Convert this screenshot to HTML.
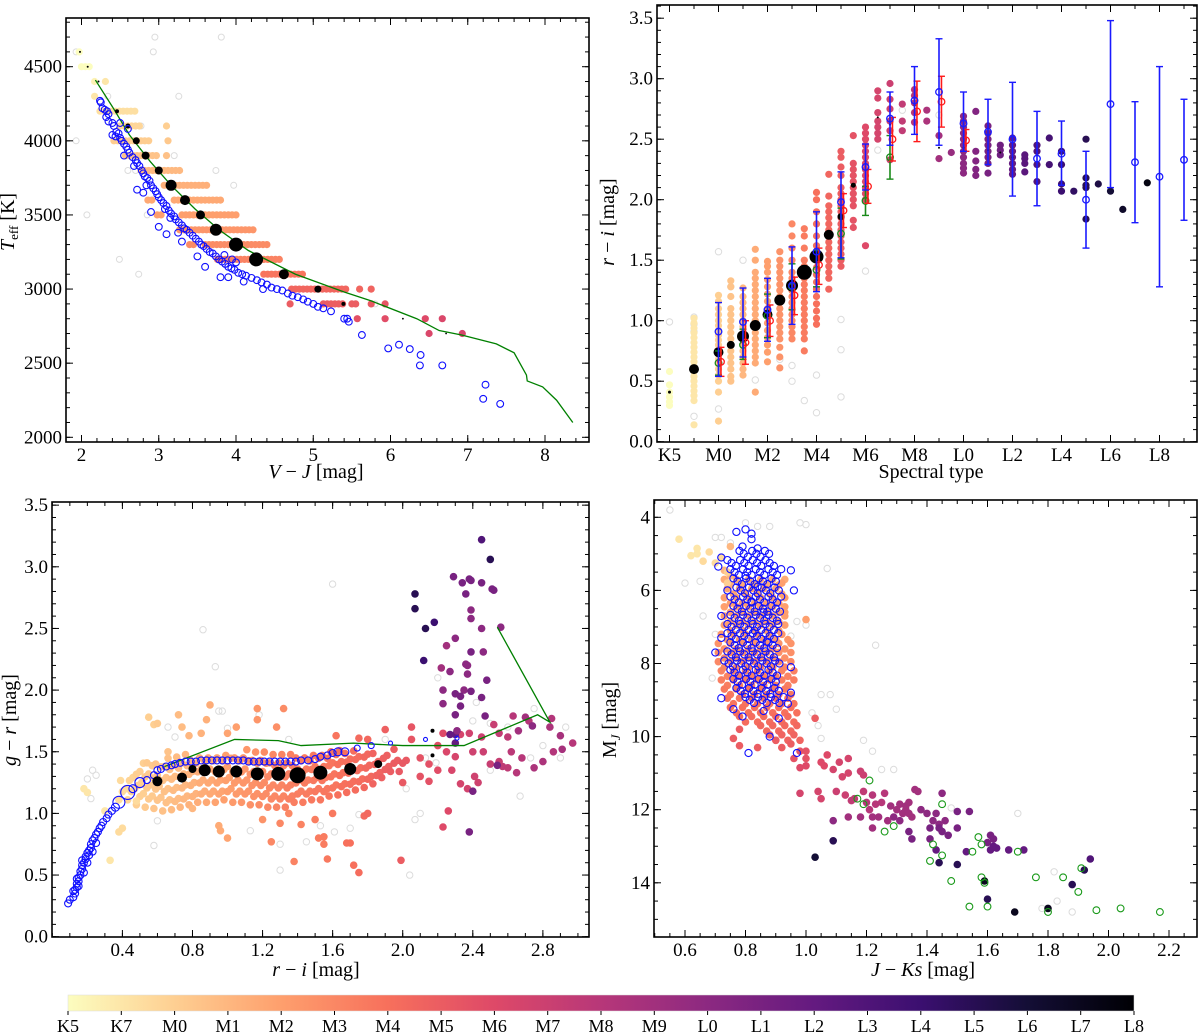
<!DOCTYPE html>
<html><head><meta charset="utf-8"><style>
html,body{margin:0;padding:0;background:#fff;}
svg{display:block;}
svg text{font-family:"Liberation Serif",serif;}
</style></head><body>
<svg id="fig" width="1200" height="1034" viewBox="0 0 1200 1034" xmlns="http://www.w3.org/2000/svg" font-family="Liberation Serif, serif">
<defs>
<linearGradient id="cbgrad" x1="0" x2="1" y1="0" y2="0">
<stop offset="0" stop-color="#fcfdbf"/><stop offset="0.1" stop-color="#fecf92"/><stop offset="0.2" stop-color="#fe9f6d"/><stop offset="0.3" stop-color="#f7705c"/><stop offset="0.4" stop-color="#de4968"/><stop offset="0.5" stop-color="#b73779"/><stop offset="0.6" stop-color="#8c2981"/><stop offset="0.7" stop-color="#641a80"/><stop offset="0.8" stop-color="#3b0f70"/><stop offset="0.9" stop-color="#140e36"/><stop offset="1" stop-color="#000004"/>
</linearGradient>
</defs>
</svg>
<script>
// ---------- Panel 1 data (V-J vs Teff) ----------
const p1Streaks=[[4600,1.97,1.99,0],[4500,2.0,2.13,0],[4400,2.17,2.17,0.5],[4400,2.31,2.31,1],[4300,2.17,2.17,1],[4200,2.24,2.69,1.3],[4100,2.5,2.78,1.7],[4100,3.1,3.1,2],[4000,2.42,2.9,2.1],[4000,3.12,3.12,2.3],[3900,2.57,3.0,2.5],[3900,3.1,3.1,2.6],[3800,2.77,3.27,2.9],[3700,3.07,3.62,3.3],[3600,2.86,2.95,3.6],[3600,3.2,3.8,3.6],[3500,2.98,3.05,4],[3500,3.3,4.0,4],[3400,3.27,4.25,4.4],[3300,3.4,3.45,4.8],[3300,3.6,4.41,4.8],[3200,3.76,4.57,5.2],[3100,4.36,4.9,5.8],[3000,4.72,5.45,6.5],[3000,5.6,5.6,6.5],[3000,5.75,5.78,6.6],[2900,4.7,4.7,7],[2900,5.13,5.4,7],[2900,5.5,5.55,7],[2900,5.75,5.78,7.2],[2900,5.93,5.93,7.4],[2800,5.57,5.57,7.6],[2800,5.93,5.93,7.8],[2800,6.45,6.45,8],[2800,6.67,6.67,8.2],[2700,6.5,6.5,8.2],[2700,6.93,6.93,8.4]];
const p1Gray=[[2.95,4700],[3.81,4700],[1.93,4600],[2.93,4600],[2.34,4300],[3.26,4300],[1.93,4000],[2.77,4100],[3.2,3900],[2.6,3800],[2.7,3800],[3.74,3800],[3.97,3700],[2.07,3500],[2.49,3200],[2.74,3100],[2.85,3500],[5.8,2900]];
const p1BlueX=[2.24,2.25,2.27,2.3,2.33,2.35,2.32,2.4,2.42,2.45,2.4,2.44,2.48,2.5,2.52,2.55,2.58,2.6,2.62,2.55,2.66,2.7,2.72,2.68,2.75,2.78,2.8,2.82,2.85,2.88,2.84,2.9,2.93,2.96,2.98,3.0,3.03,3.06,3.1,3.08,3.13,3.16,3.2,3.22,3.26,3.3,3.33,3.36,3.4,3.44,3.48,3.52,3.55,3.58,3.62,3.66,3.7,3.74,3.78,3.82,3.86,3.9,3.94,3.98,4.03,4.08,4.13,4.2,4.27,4.33,4.4,4.46,4.53,4.6,4.67,4.73,4.8,4.87,4.93,5.0,5.06,5.13,5.23,5.4,5.44,5.46,5.63,3.6,3.85,3.5,4.0,3.9,3.8,3.3,3.1,3.0,2.9,2.8,2.72,3.15,3.25,3.95,4.1,4.35,2.5,2.6,2.35,5.97,6.11,6.25,6.39,6.38,6.67,7.23,7.2,7.42];
const p1BlueT=[4270,4260,4220,4210,4200,4180,4160,4120,4100,4060,4040,4030,4050,4020,4000,3980,3960,3940,3920,3900,3890,3870,3850,3830,3830,3800,3780,3760,3750,3730,3700,3700,3680,3660,3640,3620,3600,3580,3560,3540,3530,3510,3490,3470,3450,3430,3410,3400,3380,3360,3340,3320,3300,3290,3270,3250,3240,3220,3200,3185,3170,3150,3140,3130,3110,3100,3090,3075,3060,3045,3030,3010,3000,2990,2970,2955,2945,2930,2915,2900,2880,2870,2850,2800,2800,2780,2690,3150,3230,3220,3180,3080,3080,3320,3370,3420,3520,3650,3670,3480,3380,3200,3050,3000,4120,4080,4130,2600,2625,2595,2555,2485,2485,2355,2260,2225];
const p1MeanX=[1.98,2.08,2.22,2.46,2.6,2.71,2.83,3.0,3.16,3.34,3.54,3.74,4.0,4.26,4.62,5.06,5.39,6.16,6.72];
const p1MeanT=[4600,4500,4400,4200,4100,4000,3900,3800,3700,3600,3500,3400,3300,3200,3100,3000,2900,2800,2700];
const p1MeanR=[1,1,1,2,2.5,3.5,4,4,5.5,5,4.5,6,7,7,5,3.5,2,0.9,0.9];
const p1LineX=[2.18,2.4,2.62,2.89,3.16,3.47,3.78,4.16,4.77,5.4,5.75,6.34,6.63,6.92,7.37,7.6,7.76,7.77,7.97,8.15,8.36];
const p1LineT=[4410,4230,4040,3860,3700,3540,3400,3260,3100,2980,2920,2800,2720,2690,2630,2570,2420,2380,2340,2250,2100];
const p1XTicks=[2,3,4,5,6,7,8];
const p1YTicks=[2000,2500,3000,3500,4000,4500];

// ---------- Panel 2 data (spectral type vs r-i) ----------
const p2ColIdx=[-2,-1,0,0.5,1,1.5,2,2.5,3,3.5,4,4.5,5,5.5,6,6.5,7,7.5,8,8.5,9,9.5,10,10.5,11,11.5,12,12.5,13,13.5,14,14.5,15,15.5,16,16.5,17.5];
const p2ColVals=[[0.3,0.33,0.37,0.41,0.47,0.58],[0.14,0.34,0.38,0.42,0.46,0.5,0.54,0.58,0.62,0.66,0.7,0.74,0.78,0.82,0.86,0.9,0.94,0.98,1.02],[0.17,0.41,0.5,0.55,0.6,0.64,0.68,0.72,0.76,0.8,0.84,0.88,0.92,0.96,1.0,1.05,1.1,1.16,1.21],[0.5,0.54,0.6,0.65,0.7,0.75,0.8,0.85,0.9,0.95,1.0,1.05,1.1,1.2,1.28,1.33],[0.55,0.6,0.65,0.7,0.75,0.8,0.85,0.9,0.95,1.0,1.05,1.1,1.15,1.2,1.27],[0.41,0.65,0.7,0.75,0.8,0.85,0.9,0.95,1.0,1.05,1.1,1.15,1.2,1.25,1.3,1.35,1.4,1.5,1.59],[0.66,0.74,0.8,0.86,0.92,0.98,1.04,1.1,1.16,1.22,1.28,1.34,1.4,1.45,1.49],[0.61,0.7,0.78,0.85,0.9,0.95,1.0,1.05,1.1,1.15,1.2,1.25,1.3,1.35,1.4,1.45,1.5,1.57],[0.85,0.9,0.95,1.0,1.05,1.1,1.15,1.2,1.25,1.3,1.35,1.4,1.5,1.6,1.7,1.8],[0.75,0.85,0.9,0.95,1.0,1.05,1.1,1.15,1.2,1.25,1.3,1.35,1.4,1.45,1.5,1.6,1.7,1.76],[0.97,1.02,1.08,1.14,1.2,1.26,1.32,1.38,1.44,1.5,1.56,1.62,1.7,1.8,1.9,2.0,2.06],[1.26,1.35,1.4,1.45,1.5,1.55,1.6,1.65,1.7,1.75,1.8,1.85,1.9,1.95,2.03,2.21],[1.45,1.5,1.55,1.6,1.65,1.7,1.75,1.8,1.85,1.9,1.95,2.0,2.05,2.1,2.2,2.27,2.35,2.4],[1.77,1.83,1.95,2.0,2.05,2.1,2.15,2.2,2.25,2.3,2.53],[1.62,2.0,2.05,2.1,2.15,2.2,2.25,2.3,2.35,2.4,2.45,2.5,2.55,2.6],[2.5,2.55,2.6,2.65,2.72,2.84,2.9],[2.33,2.57,2.65,2.75,2.83,2.96],[2.57,2.65,2.79],[2.64,2.72,2.8,2.86,2.91],[2.65,2.74],[2.34,2.53],[2.39],[2.22,2.26,2.3,2.35,2.4,2.45,2.5,2.55,2.6,2.65,2.69],[2.2,2.25,2.32,2.4,2.73],[2.22,2.3,2.35,2.4,2.45,2.5,2.55,2.61],[2.37,2.41,2.45],[2.21,2.25,2.3,2.35,2.4,2.45,2.51],[2.23,2.3,2.34,2.37],[2.15,2.29,2.4,2.45],[2.29,2.51],[2.07,2.13,2.29,2.4],[2.07],[1.84,2.1,2.12,2.18,2.5],[2.13],[2.07],[1.92],[2.14]];
const p2GrayIdx=[-2,-1,-1,-1,-1,0,0,1,1.5,2.5,3,3,3.5,4,4,5,5,5,6,6.5,7.5,9,0.5];
const p2GrayVal=[0.99,0.21,0.91,0.97,1.03,0.27,1.57,1.5,0.51,0.68,0.5,0.63,0.34,0.24,0.55,0.37,0.76,1.01,1.41,2.41,2.74,2.7,1.28];
const p2MeanIdx=[-2,-1,0,0.5,1,1.5,2,2.5,3,3.5,4,4.5,5,5.5,6,6.5,7,8,9,10,11,11.5,12];
const p2MeanVal=[0.41,0.6,0.74,0.8,0.87,0.96,1.05,1.17,1.29,1.4,1.53,1.71,1.86,2.12,2.32,2.68,2.62,2.78,2.43,2.43,2.41,2.39,2.35];
const p2MeanR=[1.5,5,5,4,6,5.5,5,5.5,6,7.5,7,5,3.5,2.5,1,1,1,1,1,1,1,1,1];
const p2BlueIdx=[0,1,2,3,4,5,6,7,8,9,10,11,12,13,14,15,16,17,18,19];
const p2BlueVal=[0.91,0.99,1.09,1.29,1.57,1.98,2.27,2.67,2.82,2.89,2.63,2.56,2.5,2.34,2.38,2.0,2.79,2.31,2.19,2.33];
const p2BlueLo=[0.54,0.7,0.83,0.97,1.24,1.52,2.08,2.45,2.54,2.45,2.4,2.29,2.03,1.95,2.12,1.6,2.1,1.81,1.28,1.83];
const p2BlueHi=[1.15,1.27,1.35,1.61,1.9,2.23,2.46,2.89,3.1,3.33,2.89,2.83,2.97,2.73,2.65,2.4,3.48,2.81,3.1,2.83];
const p2RedIdx=[0.1,1.1,2.1,3.1,4.1,5.1,6.1,7.1,8.1,9.1,10.1];
const p2RedVal=[0.66,0.82,1.0,1.21,1.46,1.91,2.11,2.5,2.73,2.81,2.49];
const p2RedLo=[0.54,0.64,0.87,1.05,1.3,1.77,1.97,2.32,2.48,2.6,2.4];
const p2RedHi=[0.78,1.0,1.13,1.36,1.6,2.05,2.25,2.68,2.98,3.02,2.58];
const p2GreenIdx=[0,1,2,3,4,5,6,7];
const p2GreenVal=[0.65,0.8,1.04,1.28,1.42,1.72,1.99,2.35];
const p2GreenLo=[0.55,0.68,0.86,1.09,1.28,1.51,1.87,2.17];
const p2GreenHi=[0.75,0.93,1.22,1.47,1.58,1.93,2.11,2.53];
const p2XTickIdx=[-2,0,2,4,6,8,10,12,14,16,18];
const p2XTickLab=["K5","M0","M2","M4","M6","M8","L0","L2","L4","L6","L8"];
const p2YTicks=[0.0,0.5,1.0,1.5,2.0,2.5,3.0,3.5];

// ---------- Panel 3 data (r-i vs g-r) ----------
const p3CloudX=[0.4,0.45,0.5,0.55,0.6,0.65,0.7,0.75,0.8,0.85,0.9,0.95,1.0,1.05,1.1,1.15,1.2,1.25,1.3,1.35,1.4,1.45,1.5,1.55,1.6,1.65,1.7,1.75,1.8,1.85,1.9,1.95,2.0];
const p3CloudLo=[1.12,1.12,1.08,1.06,1.05,1.03,1.04,1.06,1.08,1.1,1.1,1.1,1.12,1.1,1.1,1.08,1.08,1.06,1.06,1.06,1.1,1.1,1.12,1.12,1.15,1.16,1.18,1.2,1.22,1.25,1.3,1.35,1.35];
const p3CloudHi=[1.28,1.32,1.4,1.45,1.45,1.45,1.47,1.48,1.48,1.5,1.5,1.5,1.5,1.5,1.52,1.52,1.5,1.5,1.5,1.5,1.5,1.5,1.5,1.52,1.52,1.52,1.52,1.5,1.5,1.5,1.48,1.48,1.46];
const p3CloudS=[1.5,1.8,2,2.2,2.4,2.6,2.8,3,3.2,3.4,3.6,3.8,4,4.2,4.4,4.6,4.8,5,5.1,5.3,5.4,5.5,5.6,5.7,5.8,6,6.1,6.2,6.4,6.6,6.8,7,7.2];
const p3Pts=[[0.18,1.2,1],[0.2,1.17,1],[0.33,0.62,1],[0.3,1.02,1],[0.4,0.88,1.5],[0.38,0.85,1.5],[0.48,1.1,1.5],[0.55,1.78,2],[0.58,1.72,2],[0.6,1.73,2.2],[0.66,1.5,2.5],[0.72,1.8,2.8],[0.74,1.7,2.8],[0.78,1.63,3],[0.8,1.04,3],[0.85,1.65,3.2],[0.88,1.76,3.3],[0.9,1.88,3.4],[0.95,0.9,3.5],[0.96,0.86,3.5],[1.0,0.8,3.8],[1.0,1.65,3.8],[1.05,1.7,4],[1.17,1.85,4.4],[1.17,1.76,4.4],[1.2,0.95,4.5],[1.28,1.7,4.7],[1.32,1.85,4.8],[1.25,0.77,5],[1.3,0.92,5],[1.35,1.0,5],[1.38,0.61,5.2],[1.42,0.91,5.2],[1.5,0.95,5.4],[1.52,0.8,5.5],[1.55,0.81,5.5],[1.55,0.75,5.5],[1.57,0.63,5.6],[1.6,1.0,5.6],[1.62,1.63,5.8],[1.68,0.76,6],[1.7,0.76,6],[1.72,0.58,6],[1.75,0.52,6.2],[1.78,0.98,6.3],[1.8,1.0,6.4],[1.8,1.6,6.4],[1.75,1.61,6.3],[1.9,1.68,6.8],[1.95,1.52,7],[1.99,0.62,7],[2.0,1.25,7.2],[2.05,1.6,7.4],[2.05,1.7,7.4],[2.1,1.3,7.5],[2.1,1.45,7.5],[2.15,1.4,7.6],[2.15,1.26,7.6],[2.2,1.55,7.8],[2.2,1.35,7.8],[2.23,1.65,8],[2.23,0.89,8],[2.26,1.02,8],[2.25,1.5,8.2],[2.28,1.35,8.3],[2.3,1.46,8.4],[2.33,1.64,8.4],[2.33,1.24,8.5],[2.37,1.2,8.6],[2.38,1.65,8.7],[2.4,1.5,8.8],[2.41,1.3,8.8],[2.43,1.25,8.8],[2.46,1.5,9],[2.5,1.4,9.2],[2.52,1.72,9.2],[2.55,1.65,9.4],[2.57,1.38,9.6],[2.6,1.62,9.6],[2.62,1.5,9.8],[2.63,1.79,10],[2.65,1.33,10],[2.68,1.45,10],[2.72,1.75,10],[2.75,1.37,10.5],[2.8,1.42,10.5],[2.84,1.7,10.5],[2.85,1.77,10.2],[2.86,1.5,10.2],[2.91,1.52,10.8],[2.9,1.63,10.8],[2.97,1.57,10],[2.6,1.37,9.6],[2.55,1.42,9.2],[2.45,1.62,9],[2.07,2.78,17],[2.07,2.66,17],[2.13,2.5,17],[2.18,2.55,16],[2.12,2.24,16],[2.29,2.92,13],[2.34,2.87,13],[2.38,2.9,13],[2.39,2.89,13],[2.45,3.22,15],[2.5,3.06,17],[2.51,2.82,13],[2.52,2.81,13],[2.45,2.87,13],[2.36,2.78,13],[2.39,2.65,12],[2.39,2.58,12],[2.45,2.5,12],[2.3,2.42,12],[2.25,2.36,11],[2.39,2.31,13],[2.46,2.31,12],[2.36,2.21,12],[2.37,2.2,12],[2.37,2.13,12],[2.22,2.18,11],[2.27,2.15,12],[2.48,2.08,13],[2.23,2.0,12],[2.35,2.0,12],[2.3,1.97,13],[2.33,1.95,13],[2.39,1.99,13],[2.45,1.94,13],[2.23,1.89,12],[2.33,1.87,13],[2.3,1.8,13],[2.47,1.79,13],[2.3,1.64,14],[2.27,1.64,14],[2.3,1.57,14],[2.38,0.85,13],[2.4,1.18,13],[2.31,1.67,12],[2.74,1.71,12],[2.54,1.39,13],[2.56,2.51,12],[2.7,1.78,11],[2.66,1.67,11]];
const p3Gray=[[0.86,2.49],[0.93,2.19],[1.6,2.86],[0.95,1.83],[0.97,1.83],[1.0,1.69],[1.18,1.8],[0.6,0.94],[0.58,0.74],[0.42,1.2],[0.25,1.31],[0.23,1.35],[0.22,1.12],[0.2,1.28],[0.7,1.62],[0.66,1.7],[1.3,0.75],[1.13,0.86],[1.3,0.54],[1.45,0.77],[1.53,0.9],[1.61,0.85],[1.7,0.88],[1.68,1.2],[1.75,0.99],[2.04,0.5],[2.1,1.0],[2.07,0.95],[2.02,1.2],[2.2,2.1],[2.4,1.75],[2.42,1.9],[2.5,1.73],[2.6,1.7],[2.73,1.45],[2.67,1.14],[2.75,1.85],[2.8,1.55],[2.93,1.7],[2.9,1.45],[2.5,1.35],[2.19,1.41],[2.13,1.45],[2.4,1.5],[1.35,1.6],[1.9,1.6]];
const p3BlueX=[0.09,0.1,0.12,0.13,0.13,0.14,0.14,0.15,0.15,0.16,0.16,0.17,0.17,0.18,0.19,0.19,0.2,0.21,0.22,0.22,0.23,0.24,0.25,0.26,0.27,0.28,0.29,0.31,0.32,0.34,0.12,0.15,0.18,0.2,0.23,0.25,0.14,0.17,0.21,0.36,0.46,0.54,0.58,0.6,0.62,0.65,0.68,0.7,0.73,0.76,0.79,0.82,0.85,0.88,0.91,0.94,0.97,1.0,1.03,1.06,1.09,1.12,1.15,1.18,1.21,1.24,1.27,1.3,1.33,1.36,1.39,1.42,1.46,1.5,1.53,1.57,1.6,1.63,1.67,1.74,1.82,1.93,2.13,2.31,0.38,0.43,0.5];
const p3BlueY=[0.27,0.3,0.32,0.35,0.38,0.4,0.43,0.45,0.48,0.5,0.53,0.55,0.58,0.6,0.63,0.65,0.68,0.7,0.72,0.75,0.78,0.8,0.83,0.85,0.88,0.9,0.93,0.96,0.99,1.02,0.37,0.41,0.52,0.6,0.69,0.76,0.47,0.62,0.66,1.05,1.2,1.27,1.31,1.35,1.36,1.38,1.39,1.4,1.41,1.42,1.42,1.42,1.43,1.43,1.43,1.43,1.43,1.43,1.43,1.43,1.43,1.42,1.42,1.42,1.42,1.42,1.42,1.42,1.42,1.42,1.42,1.43,1.43,1.44,1.46,1.47,1.49,1.5,1.5,1.53,1.55,1.57,1.6,1.61,1.09,1.17,1.25];
const p3BlueR=[3.5,3.5,3.5,3.5,3.5,3.5,3.5,3.5,3.5,3.5,3.5,3.5,3.5,3.5,3.5,3.5,3.5,3.5,3.5,3.5,3.5,3.5,3.5,3.5,3.5,3.5,3.5,3.5,3.5,3.5,3.5,3.5,3.5,3.5,3.5,3.5,3.5,3.5,3.5,4,4,3.5,3.5,3.5,3.5,3.5,3.5,3.5,3.5,3.5,3.5,3.5,3.5,3.5,3.5,3.5,3.5,3.5,3.5,3.5,3.5,3.5,3.5,3.5,3.5,3.5,3.5,3.5,3.5,3.5,3.5,3.5,3.5,3.5,3.5,3.5,3.5,4,4,3,3,2,2,2,6,7,5];
const p3MeanX=[0.6,0.74,0.8,0.87,0.95,1.05,1.17,1.29,1.4,1.53,1.7,1.86,2.17,2.17];
const p3MeanY=[1.26,1.29,1.36,1.35,1.34,1.34,1.32,1.32,1.31,1.33,1.36,1.4,1.47,1.67];
const p3MeanR=[5,5,4,6,6,6,6.5,7,8,7,6,4,2,2];
const p3LineX=[0.64,1.04,1.29,1.42,1.72,2.0,2.35,2.77,2.84,2.54];
const p3LineY=[1.38,1.6,1.59,1.55,1.57,1.55,1.55,1.8,1.74,2.51];
const p3XTicks=[0.4,0.8,1.2,1.6,2.0,2.4,2.8];
const p3YTicks=[0.0,0.5,1.0,1.5,2.0,2.5,3.0,3.5];

// ---------- Panel 4 data (J-Ks vs M_J) ----------
const p4RedRowY=[5.5,5.75,6.0,6.25,6.5,6.75,7.0,7.25,7.5,7.75,8.0,8.25,8.5,8.75,9.0,9.25,9.5,9.75,10.0];
const p4RedRowLo=[0.73,0.73,0.74,0.73,0.73,0.73,0.73,0.72,0.71,0.71,0.71,0.72,0.72,0.73,0.74,0.75,0.78,0.85,0.88];
const p4RedRowHi=[0.76,0.93,0.93,0.94,0.94,0.94,0.94,0.95,0.95,0.95,0.95,0.96,0.96,0.96,0.96,0.97,0.97,0.98,0.98];
const p4RedRowS=[3,3.5,3.8,4,4,4,4,4.3,4.5,4.7,5,5.2,5.4,5.6,5.8,6,6.2,6.4,6.6];
const p4BlueRowY=[5.0,5.25,5.5,5.75,6.0,6.25,6.5,6.75,7.0,7.25,7.5,7.75,8.0,8.25,8.5,8.75,9.0];
const p4BlueRowLo=[0.78,0.74,0.75,0.76,0.77,0.75,0.76,0.75,0.74,0.74,0.75,0.74,0.73,0.75,0.76,0.77,0.8];
const p4BlueRowHi=[0.88,0.9,0.92,0.91,0.92,0.93,0.92,0.91,0.91,0.92,0.91,0.9,0.92,0.91,0.9,0.92,0.93];
const p4BlueExtra=[[0.77,4.4],[0.8,4.33],[0.82,4.45],[0.82,4.6],[0.84,4.85],[0.79,4.8],[0.72,5.1],[0.71,5.35],[0.74,6.0],[0.72,6.7],[0.7,7.7],[0.72,7.3],[0.72,8.95],[0.76,9.25],[0.79,9.45],[0.81,10.45],[0.88,10.0],[0.97,10.45],[0.95,8.1],[0.95,8.8],[0.95,5.45],[0.96,6.0],[0.86,9.3],[0.91,9.5],[0.94,9.1],[0.8,5.6],[0.84,5.9],[0.82,6.3],[0.86,6.6],[0.83,7.1],[0.87,7.4]];
const p4Pts=[[0.58,4.6,1],[0.62,5.05,1],[0.64,4.85,1],[0.64,5.0,1],[0.66,5.2,1.5],[0.68,4.95,1.5],[0.7,5.25,1.5],[0.72,5.1,1.5],[0.74,5.5,2],[0.74,5.8,2],[0.75,4.8,3],[1.0,6.8,4],[0.93,6.6,4],[0.92,5.8,4],[0.76,10.05,7],[0.78,10.25,7],[0.78,9.8,7],[0.84,10.3,7],[0.9,10.1,7],[0.92,10.3,7],[0.95,10.2,7],[0.96,10.6,7.5],[0.98,10.4,7.5],[1.0,10.6,7.5],[1.0,10.4,7.5],[0.98,10.85,8],[1.0,10.8,8],[0.98,11.55,8.5],[1.04,11.5,8.5],[1.05,11.7,8.5],[1.03,9.5,7],[1.05,10.7,8],[1.06,10.8,8],[1.07,10.5,8],[1.09,10.9,8.5],[1.1,11.5,9],[1.11,10.7,8.5],[1.12,11.1,8.5],[1.14,10.6,8.5],[1.14,11.0,8.5],[1.13,11.6,9],[1.15,11.75,9.5],[1.16,11.7,9.5],[1.18,10.95,9],[1.19,11.05,9],[1.19,11.5,9.5],[1.2,11.8,10],[1.21,12.0,10],[1.22,11.6,10],[1.23,11.85,10],[1.25,11.8,10],[1.26,11.55,10],[1.24,12.2,11],[1.22,12.2,11],[1.18,12.2,11],[1.14,12.2,11],[1.09,12.3,12],[1.28,11.9,11],[1.3,12.0,11],[1.31,11.85,11],[1.32,12.1,11],[1.33,11.9,11],[1.34,12.1,11],[1.35,12.2,11],[1.36,11.45,11],[1.37,11.5,11],[1.33,12.0,11],[1.34,11.8,11],[1.31,12.3,12],[1.34,12.6,13],[1.35,12.8,13],[1.29,12.2,12],[1.38,12.0,12],[1.4,12.1,12],[1.41,12.5,13],[1.42,12.3,12],[1.43,12.1,12],[1.44,12.4,12],[1.45,11.55,12],[1.45,12.6,13],[1.46,12.3,12],[1.47,12.7,13],[1.44,12.5,13],[1.41,12.8,13],[1.43,13.1,14],[1.5,12.05,13],[1.5,12.5,13],[1.54,12.05,13],[1.53,13.15,14],[1.6,12.9,13],[1.61,12.7,13],[1.61,13.1,14],[1.62,12.8,13],[1.62,13.0,14],[1.63,13.05,14],[1.67,13.1,14],[1.72,13.1,14],[1.27,12.3,11],[1.22,12.5,11],[1.09,12.85,17],[1.03,13.3,18],[1.44,13.45,17],[1.5,13.5,17],[1.59,13.95,19],[1.6,14.45,17],[1.69,14.8,19],[1.8,14.7,19],[1.88,14.05,17],[1.92,13.65,17],[1.94,13.35,15]];
const p4GreenX=[1.21,1.17,1.19,1.26,1.29,1.45,1.42,1.45,1.41,1.48,1.55,1.57,1.58,1.58,1.59,1.6,1.54,1.7,1.76,1.85,1.8,1.9,1.91,1.96,2.04,2.17];
const p4GreenY=[11.2,11.7,11.85,12.6,12.45,11.85,12.95,13.25,13.4,13.95,13.15,12.75,12.95,13.85,14.0,14.65,14.65,13.15,13.85,13.85,14.8,14.25,13.6,14.75,14.7,14.8];
const p4Gray=[[0.55,3.8],[0.6,5.8],[0.65,5.75],[0.66,6.7],[0.7,4.55],[0.72,4.55],[0.75,4.7],[0.8,4.15],[0.84,4.25],[0.88,4.25],[0.98,4.15],[1.0,4.2],[1.07,5.4],[0.97,6.85],[0.95,7.25],[1.0,6.95],[1.05,8.85],[1.08,8.85],[1.1,9.25],[1.02,9.35],[1.04,9.7],[1.05,10.05],[1.19,10.1],[1.23,7.5],[1.22,10.4],[1.25,10.9],[1.29,10.9],[1.48,11.95],[1.7,12.1],[1.83,14.5],[1.82,13.7],[1.88,14.8],[1.78,14.7],[0.69,8.4],[0.7,7.2]];
const p4XTicks=[0.6,0.8,1.0,1.2,1.4,1.6,1.8,2.0,2.2];
const p4YTicks=[4,6,8,10,12,14];

// ---------- Colorbar ----------
const cbLabels=["K5","K7","M0","M1","M2","M3","M4","M5","M6","M7","M8","M9","L0","L1","L2","L3","L4","L5","L6","L7","L8"];

// ================= drawing =================
const NS="http://www.w3.org/2000/svg";
const FONT='Liberation Serif, serif';
const svg=document.getElementById('fig');
const magmaStops=["#000004","#140e36","#3b0f70","#641a80","#8c2981","#b73779","#de4968","#f7705c","#fe9f6d","#fecf92","#fcfdbf"];
function hex(h){return [parseInt(h.slice(1,3),16),parseInt(h.slice(3,5),16),parseInt(h.slice(5,7),16)];}
function spColor(s){
  let t=1-Math.max(0,Math.min(20,s))/20; let f=t*10; let i=Math.min(9,Math.floor(f)); let u=f-i;
  const a=hex(magmaStops[i]),b=hex(magmaStops[i+1]);
  return "rgb("+a.map((v,k)=>Math.round(v+(b[k]-v)*u)).join(",")+")";
}
function el(tag,attrs,parent){const e=document.createElementNS(NS,tag);for(const k in attrs)e.setAttribute(k,attrs[k]);if(tag==='text')e.setAttribute('font-family',FONT);(parent||svg).appendChild(e);return e;}
function grp(name,parent){const g=el('g',{},parent);


return g;}
function circ(g,cx,cy,r,fill,stroke,sw){return el('circle',{cx:cx.toFixed(1),cy:cy.toFixed(1),r:r,fill:fill,stroke:stroke||'none','stroke-width':sw||1},g);}

function makeAxes(name,box,sx,sy,xMaj,xMin,yMaj,yMin,xLab,yLab,fs){
  const g=grp(name);
  const clip=el('clipPath',{id:'clip-'+name},g);
  el('rect',{x:box.x0,y:box.y0,width:box.x1-box.x0,height:box.y1-box.y0},clip);
  const plot=grp(name+'-plot-area',g); plot.setAttribute('clip-path','url(#clip-'+name+')');
  const ax=grp(name+'-axes',g);
  function tk(list,len,isX){for(const v of list){const p=isX?sx(v):sy(v);if(p<(isX?box.x0:box.y0)-0.5||p>(isX?box.x1:box.y1)+0.5)continue;
    if(isX){el('line',{x1:p,x2:p,y1:box.y1,y2:box.y1-len,stroke:'#000','stroke-width':1},ax);el('line',{x1:p,x2:p,y1:box.y0,y2:box.y0+len,stroke:'#000','stroke-width':1},ax);}
    else{el('line',{y1:p,y2:p,x1:box.x0,x2:box.x0+len,stroke:'#000','stroke-width':1},ax);el('line',{y1:p,y2:p,x1:box.x1,x2:box.x1-len,stroke:'#000','stroke-width':1},ax);}}}
  tk(xMin,4,true);tk(xMaj,7,true);tk(yMin,4,false);tk(yMaj,7,false);
  const fr=el('rect',{x:box.x0,y:box.y0,width:box.x1-box.x0,height:box.y1-box.y0,fill:'none',stroke:'#000','stroke-width':1.6},ax);
  
  
  xMaj.forEach((v,i)=>{const t=el('text',{x:sx(v),y:box.y1+19,'text-anchor':'middle','font-size':fs},ax);t.textContent=xLab[i];
    
    });
  yMaj.forEach((v,i)=>{const t=el('text',{x:box.x0-4,y:sy(v)+6,'text-anchor':'end','font-size':fs},ax);t.textContent=yLab[i];
    
    });
  return plot;
}
function range(a,b,s){const r=[];for(let v=a;v<=b+1e-9;v+=s)r.push(Math.round(v*1000)/1000);return r;}
function txt(x,y,html,fs,rot,name){const t=el('text',{x:x,y:y,'text-anchor':'middle','font-size':fs},svg);if(rot)t.setAttribute('transform','rotate(-90 '+x+' '+y+')');t.innerHTML=html;
  
  return t;}
function errbar(g,x,y,lo,hi,col,r){el('line',{x1:x,x2:x,y1:lo,y2:hi,stroke:col,'stroke-width':1.6},g);el('line',{x1:x-3.5,x2:x+3.5,y1:lo,y2:lo,stroke:col,'stroke-width':1.4},g);el('line',{x1:x-3.5,x2:x+3.5,y1:hi,y2:hi,stroke:col,'stroke-width':1.4},g);circ(g,x,y,r,'none',col,1.3);}

// ---- Panel 1 ----
(function(){
const box={x0:66,x1:589,y0:18,y1:442};
const sx=v=>81.5+(v-2)*77.25, sy=T=>66.7+(4500-T)*0.14824;
const plot=makeAxes('panel-teff',box,sx,sy,p1XTicks,range(1.8,8.6,0.2),p1YTicks,range(2000,4800,100),p1XTicks.map(String),p1YTicks.map(String),19);
const gg=grp('gray-points',plot);p1Gray.forEach(p=>circ(gg,sx(p[0]),sy(p[1]),3,'none','#dcdcdc',1));
const gs=grp('colored-points',plot);
p1Streaks.forEach(r=>{for(let v=r[1];v<=r[2]+1e-6;v+=0.05){circ(gs,sx(v),sy(r[0]),3.6,spColor(r[3]));}});
const gl=grp('green-line',plot);
el('polyline',{points:p1LineX.map((v,i)=>sx(v)+','+sy(p1LineT[i])).join(' '),fill:'none',stroke:'#008000','stroke-width':1.3},gl);
const gm=grp('black-means',plot);p1MeanX.forEach((v,i)=>circ(gm,sx(v),sy(p1MeanT[i]),p1MeanR[i],'#000'));
const gb=grp('blue-points',plot);p1BlueX.forEach((v,i)=>circ(gb,sx(v),sy(p1BlueT[i]),3.4,'none','#1010ff',1.1));
})();
txt(14,222,'<tspan font-style="italic">T</tspan><tspan font-size="13" dy="4">eff</tspan><tspan dy="-4"> [K]</tspan>',20,true,'y-axis-title-teff');
txt(316,478,'<tspan font-style="italic">V</tspan> − <tspan font-style="italic">J</tspan> [mag]',20,false,'x-axis-title-vj');

// ---- Panel 2 ----
(function(){
const box={x0:657,x1:1197,y0:5,y1:442};
const sx=i=>669.5+(i+2)*24.5, sy=v=>441.7-v*121.0;
const plot=makeAxes('panel-spt',box,sx,sy,p2XTickIdx,range(-2,19,1),p2YTicks,range(0,3.6,0.1),p2XTickLab,p2YTicks.map(v=>v.toFixed(1)),19);
const gg=grp('gray-points',plot);p2GrayIdx.forEach((v,i)=>circ(gg,sx(v),sy(p2GrayVal[i]),3.2,'none','#dcdcdc',1));
const gs=grp('colored-points',plot);
p2ColIdx.forEach((idx,i)=>p2ColVals[i].forEach(v=>circ(gs,sx(idx),sy(v),3.6,spColor(idx+2))));
const gm=grp('black-means',plot);p2MeanIdx.forEach((v,i)=>circ(gm,sx(v),sy(p2MeanVal[i]),p2MeanR[i],'#000'));
const gge=grp('green-errorbars',plot);p2GreenIdx.forEach((v,i)=>errbar(gge,sx(v),sy(p2GreenVal[i]),sy(p2GreenLo[i]),sy(p2GreenHi[i]),'#1a8a1a',3.3));
const gre=grp('red-errorbars',plot);p2RedIdx.forEach((v,i)=>errbar(gre,sx(v),sy(p2RedVal[i]),sy(p2RedLo[i]),sy(p2RedHi[i]),'#ff1a1a',3.3));
const gbe=grp('blue-errorbars',plot);p2BlueIdx.forEach((v,i)=>errbar(gbe,sx(v),sy(p2BlueVal[i]),sy(p2BlueLo[i]),sy(p2BlueHi[i]),'#1a1aff',3.3));
})();
txt(614,222,'<tspan font-style="italic">r</tspan> − <tspan font-style="italic">i</tspan> [mag]',20,true,'y-axis-title-ri');
txt(931,478,'Spectral type',20,false,'x-axis-title-spectral-type');

// ---- Panel 3 ----
(function(){
const box={x0:52,x1:589,y0:502,y1:937};
const sx=v=>122.4+(v-0.4)*175.2, sy=v=>936.7-v*123.3;
const plot=makeAxes('panel-gr',box,sx,sy,p3XTicks,range(0,3.1,0.1),p3YTicks,range(0,3.5,0.1),p3XTicks.map(v=>v.toFixed(1)),p3YTicks.map(v=>v.toFixed(1)),19);
const gg=grp('gray-points',plot);p3Gray.forEach(p=>circ(gg,sx(p[0]),sy(p[1]),3.2,'none','#dcdcdc',1));
const gs=grp('colored-points',plot);
p3CloudX.forEach((x,i)=>{let k=0;for(let v=p3CloudLo[i];v<=p3CloudHi[i]+1e-6;v+=0.045){circ(gs,sx(x+((k*7%5)-2)*0.01),sy(v+((k%2)?0.012:-0.01)),3.8,spColor(p3CloudS[i]));k++;}});
p3Pts.forEach(p=>circ(gs,sx(p[0]),sy(p[1]),3.8,spColor(p[2])));
const gl=grp('green-line',plot);
el('polyline',{points:p3LineX.map((v,i)=>sx(v)+','+sy(p3LineY[i])).join(' '),fill:'none',stroke:'#008000','stroke-width':1.3},gl);
const gb=grp('blue-points',plot);p3BlueX.forEach((v,i)=>circ(gb,sx(v),sy(p3BlueY[i]),p3BlueR[i],'none','#1010ff',1.1));
const gm=grp('black-means',plot);p3MeanX.forEach((v,i)=>circ(gm,sx(v),sy(p3MeanY[i]),p3MeanR[i],'#000'));
})();
txt(16,720,'<tspan font-style="italic">g</tspan> − <tspan font-style="italic">r</tspan> [mag]',20,true,'y-axis-title-gr');
txt(316,976,'<tspan font-style="italic">r</tspan> − <tspan font-style="italic">i</tspan> [mag]',20,false,'x-axis-title-ri');

// ---- Panel 4 ----
(function(){
const box={x0:654,x1:1197,y0:500,y1:937};
const sx=v=>685+(v-0.6)*302.5, sy=m=>517.3+(m-4)*36.55;
const plot=makeAxes('panel-mj',box,sx,sy,p4XTicks,range(0.5,2.3,0.05),p4YTicks,range(3.5,15.5,0.5),p4XTicks.map(v=>v.toFixed(1)),p4YTicks.map(String),19);
const gg=grp('gray-points',plot);p4Gray.forEach(p=>circ(gg,sx(p[0]),sy(p[1]),3.2,'none','#dcdcdc',1));
const gs=grp('colored-points',plot);
p4RedRowY.forEach((y,i)=>{let k=0;for(let v=p4RedRowLo[i];v<=p4RedRowHi[i]+1e-6;v+=0.02){circ(gs,sx(v),sy(y+((k%2)?0.1:-0.05)),3.8,spColor(p4RedRowS[i]));k++;}});
p4Pts.forEach(p=>circ(gs,sx(p[0]),sy(p[1]),3.8,spColor(p[2])));
const gb=grp('blue-points',plot);
p4BlueRowY.forEach((y,i)=>{let k=0;for(let v=p4BlueRowLo[i];v<=p4BlueRowHi[i]+1e-6;v+=0.014){circ(gb,sx(v),sy(y+((k%3)-1)*0.08),3.6,'none','#1010ff',1.1);k++;}});
p4BlueExtra.forEach(p=>circ(gb,sx(p[0]),sy(p[1]),3.6,'none','#1010ff',1.1));
const gr=grp('green-points',plot);p4GreenX.forEach((v,i)=>circ(gr,sx(v),sy(p4GreenY[i]),3.4,'none','#1a9a1a',1.1));
})();
txt(616,720,'M<tspan font-style="italic" font-size="13" dy="4">J</tspan><tspan dy="-4"> [mag]</tspan>',20,true,'y-axis-title-mj');
txt(923,976,'<tspan font-style="italic">J</tspan> − <tspan font-style="italic">Ks</tspan> [mag]',20,false,'x-axis-title-jks');

// ---- Colorbar ----
(function(){
const g=grp('colorbar');
const x0=68,x1=1134,y0=995,y1=1011;
el('rect',{x:x0,y:y0,width:x1-x0,height:y1-y0,fill:'url(#cbgrad)',stroke:'#ddd','stroke-width':0.5},g);
cbLabels.forEach((l,i)=>{const x=x0+(x1-x0)*i/(cbLabels.length-1);
  el('line',{x1:x,x2:x,y1:y1,y2:y1+4,stroke:'#000','stroke-width':1},g);
  const t=el('text',{x:x,y:1032,'text-anchor':'middle','font-size':18},g);t.textContent=l;
  
  });
})();
</script>
</body></html>
